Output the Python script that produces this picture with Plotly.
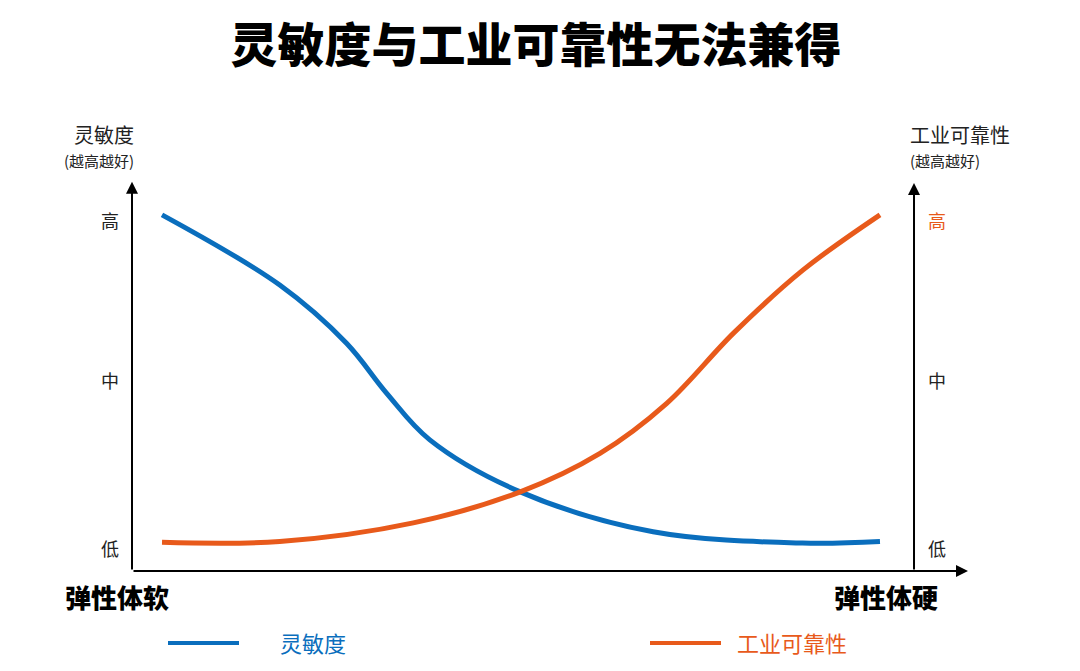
import plotly.graph_objects as go

# x: 0 = softest, 10 = hardest ; y: 0..100 relative level
x_sens = [0, 1.64, 2.57, 3.13, 3.73, 4.99, 6.84, 8.92, 10]
y_sens = [91.8, 73.7, 58.7, 45.8, 33.8, 20.4, 10.1, 7.2, 7.6]

x_rel = [0, 1.64, 3.5, 4.99, 6.10, 7.03, 7.96, 8.93, 10]
y_rel = [7.4, 7.6, 12.4, 20.4, 30.3, 43.2, 61.3, 77.6, 91.8]

level_labels = ["高", "中", "低"]
level_pos = [90.5, 49.2, 5.9]

BLUE = "#0a6ebd"
ORANGE = "#e85a1b"
FONT = "Noto Sans CJK SC"

# the page body has an 8px margin; plot area sits at px 132..968 x 183..571 on the page
OFF = 8
X0, X1 = -0.418, 11.226
RIGHT_AXIS_X = 10.474


def xp(px):
    return (px - 132) / 836


def yp(py):
    return (571 - py) / 388


def label(px, py, text, size, color="#222", weight=None, xanchor="center"):
    f = dict(family=FONT, size=size, color=color)
    if weight:
        f["weight"] = weight
    return dict(x=xp(px), y=yp(py), xref="paper", yref="paper", text=text, showarrow=False,
                xanchor=xanchor, yanchor="middle", font=f)


fig = go.Figure()
fig.add_trace(go.Scatter(x=x_sens, y=y_sens, mode="lines", name="灵敏度",
                         line=dict(color=BLUE, width=5, shape="spline", smoothing=1.0)))
fig.add_trace(go.Scatter(x=x_rel, y=y_rel, mode="lines", name="工业可靠性",
                         line=dict(color=ORANGE, width=5, shape="spline", smoothing=1.0)))

ann = []
# axes with arrows
arrow = dict(xref="x", yref="y", axref="x", ayref="y", showarrow=True, arrowhead=2,
             arrowsize=1.2, arrowwidth=2, arrowcolor="black", text="")
ann.append(dict(arrow, x=X1, y=0, ax=X0, ay=0))
ann.append(dict(arrow, x=X0, y=100.3, ax=X0, ay=0))
ann.append(dict(arrow, x=RIGHT_AXIS_X, y=100, ax=RIGHT_AXIS_X, ay=0))

# level labels
for lab, pos in zip(level_labels, level_pos):
    py = 571 - pos * 3.88
    ann.append(label(110, py, lab, 18))
    ann.append(label(937, py, lab, 18, color=ORANGE if lab == "高" else "#222"))

# axis titles
ann.append(label(136, 134, "灵敏度", 20, xanchor="right"))
ann.append(label(136, 160, "(越高越好)", 15, xanchor="right"))
ann.append(label(908, 134, "工业可靠性", 20, xanchor="left"))
ann.append(label(908, 160, "(越高越好)", 15, xanchor="left"))

# x extremes
ann.append(label(117, 596, "弹性体软", 26, color="black", weight=900))
ann.append(label(886, 596, "弹性体硬", 26, color="black", weight=900))

# legend
ann.append(label(278, 642, "灵敏度", 22, color=BLUE, xanchor="left"))
ann.append(label(735, 642, "工业可靠性", 22, color=ORANGE, xanchor="left"))

shapes = [
    dict(type="line", xref="paper", yref="paper", x0=xp(168), x1=xp(239), y0=yp(643), y1=yp(643),
         line=dict(color=BLUE, width=4)),
    dict(type="line", xref="paper", yref="paper", x0=xp(650), x1=xp(721), y0=yp(643), y1=yp(643),
         line=dict(color=ORANGE, width=4)),
]

fig.update_layout(
    width=1080, height=671,
    margin=dict(l=132 - OFF, r=1080 - 968 + OFF, t=183 - OFF, b=671 - 571 + OFF),
    paper_bgcolor="white", plot_bgcolor="white",
    showlegend=False,
    title=dict(text="灵敏度与工业可靠性无法兼得", xref="container", x=(536 - OFF) / 1080, xanchor="center",
               yref="container", y=1 - (46 - OFF) / 671, yanchor="middle",
               font=dict(family=FONT, size=47, color="black", weight=900)),
    annotations=ann,
    shapes=shapes,
)
fig.update_xaxes(range=[X0, X1], visible=False, fixedrange=True)
fig.update_yaxes(range=[0, 100], visible=False, fixedrange=True)

fig.write_html("out.html")
